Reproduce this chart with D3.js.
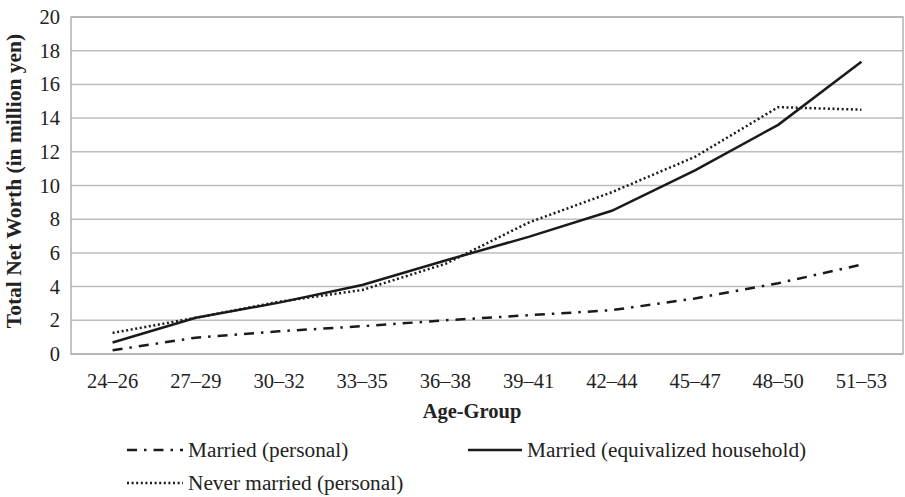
<!DOCTYPE html>
<html><head><meta charset="utf-8">
<script src="https://cdn.jsdelivr.net/npm/d3@7"></script>
<style>body{margin:0;background:#fff}svg{display:block}text{font-family:"Liberation Serif","Times New Roman",serif;fill:#222}</style>
</head><body>
<svg id="c" width="905" height="497"></svg>
<script>
const categories = ["24–26","27–29","30–32","33–35","36–38","39–41","42–44","45–47","48–50","51–53"];
const marriedPersonal = [0.22,0.97,1.35,1.65,2.0,2.3,2.6,3.3,4.2,5.3];
const marriedHousehold = [0.68,2.15,3.05,4.1,5.55,6.95,8.5,10.9,13.6,17.35];
const neverMarried = [1.25,2.15,3.1,3.8,5.35,7.8,9.6,11.7,14.65,14.5];
const yTicks = [0,2,4,6,8,10,12,14,16,18,20];
const seriesNames = ["Married (personal)","Married (equivalized household)","Never married (personal)"];

const svg = d3.select("#c");
const L=71,R=903,T=17,B=354;
const x = d3.scaleBand().domain(categories).range([L,R]);
const y = d3.scaleLinear().domain([0,20]).range([B,T]);

// gridlines
svg.append("g").selectAll("line").data(yTicks).join("line")
  .attr("x1",L).attr("x2",R).attr("y1",d=>y(d)).attr("y2",d=>y(d))
  .attr("stroke","#bdbdbd").attr("stroke-width",1.5);
// border
svg.append("rect").attr("x",L).attr("y",T).attr("width",R-L).attr("height",B-T)
  .attr("fill","none").attr("stroke","#b0b0b0").attr("stroke-width",1.5);

// y axis labels
const yAxis = d3.axisLeft(y).tickValues(yTicks).tickSize(0).tickPadding(11);
const yg = svg.append("g").attr("transform",`translate(${L},0)`).call(yAxis);
yg.select(".domain").remove();
yg.selectAll("text").attr("font-size",20.5).attr("font-family","Liberation Serif").attr("fill","#222");

const xAxis = d3.axisBottom(x).tickSize(0).tickPadding(19);
const xg = svg.append("g").attr("transform",`translate(0,${B})`).call(xAxis);
xg.select(".domain").remove();
xg.selectAll("text").attr("font-size",20.5).attr("font-family","Liberation Serif").attr("fill","#222");

svg.append("text").attr("x",472).attr("y",418).attr("text-anchor","middle")
  .attr("font-size",20.5).attr("font-weight","bold").text("Age-Group");
svg.append("text").attr("transform",`translate(21,181) rotate(-90)`).attr("text-anchor","middle")
  .attr("font-size",21.5).attr("font-weight","bold").text("Total Net Worth (in million yen)");

const styles = [
  {data:marriedPersonal, dash:"10,7,2.5,7", width:2.5},
  {data:marriedHousehold, dash:null, width:2.5},
  {data:neverMarried, dash:"2,2.6", width:2.5}
];
const line = d3.line().x((d,i)=>x(categories[i])+x.bandwidth()/2).y(d=>y(d));
styles.forEach(s=>{
  svg.append("path").attr("d",line(s.data)).attr("fill","none").attr("stroke","#1a1a1a")
    .attr("stroke-width",s.width).attr("stroke-dasharray",s.dash);
});

// legend
const leg = [
  {x1:127,x2:183,y:450,tx:188,s:styles[0],name:seriesNames[0]},
  {x1:468,x2:522,y:450,tx:527,s:styles[1],name:seriesNames[1]},
  {x1:127,x2:183,y:483,tx:188,s:styles[2],name:seriesNames[2]}
];
leg.forEach(l=>{
  svg.append("line").attr("x1",l.x1).attr("x2",l.x2).attr("y1",l.y).attr("y2",l.y)
    .attr("stroke","#1a1a1a").attr("stroke-width",l.s.width).attr("stroke-dasharray",l.s.dash);
  svg.append("text").attr("x",l.tx).attr("y",l.y+7).attr("font-size",21.3).text(l.name);
});
</script>
</body></html>
